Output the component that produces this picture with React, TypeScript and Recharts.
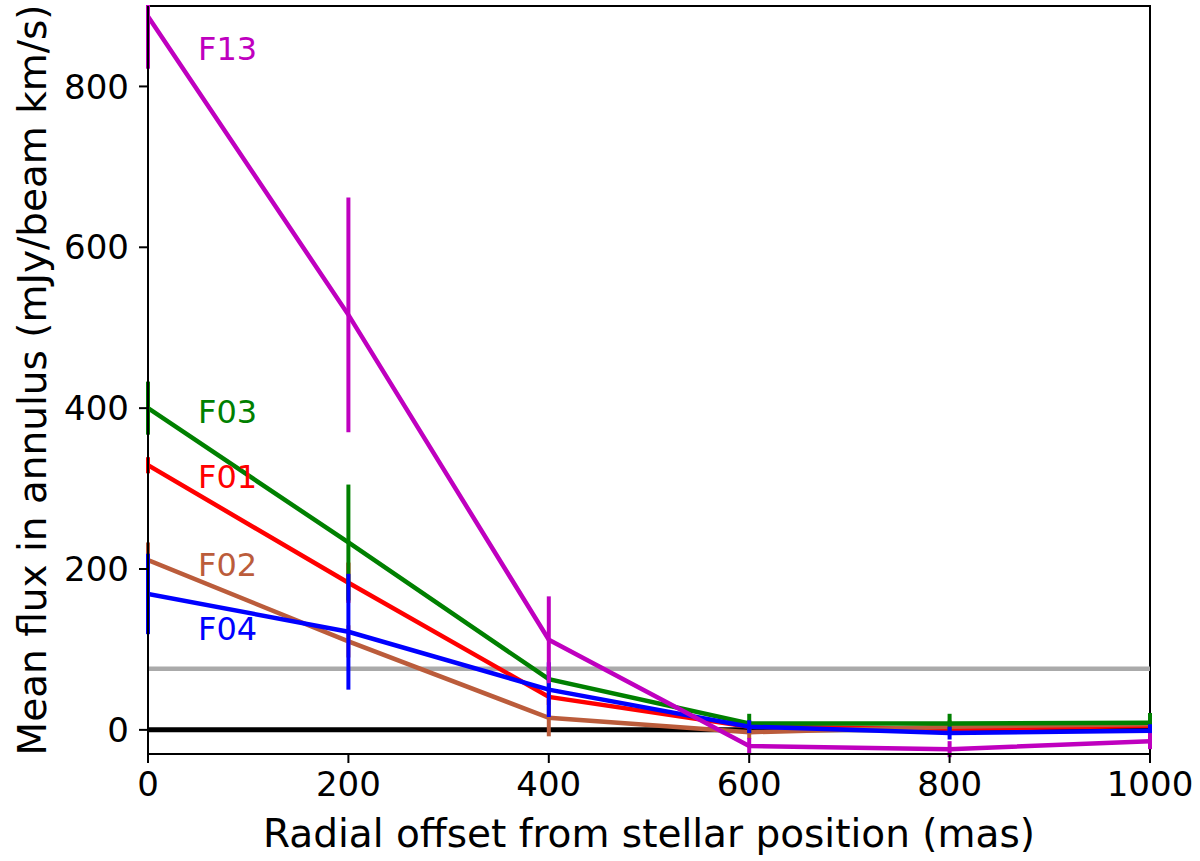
import {
  ErrorBar,
  Label,
  Line,
  LineChart,
  ReferenceArea,
  ReferenceDot,
  ReferenceLine,
  XAxis,
  YAxis,
} from "recharts";

// radial offsets (mas)
const offsets = [0, 200, 400, 600, 800, 1000];

// mean flux per field (mJy/beam km/s) and 1-sigma errors
const f01 = [329, 183, 41, 4, 1, 5];
const f01Err = [10, 25, 10, 6, 6, 6];
const f02 = [211, 110, 15, -3, 4, 7];
const f02Err = [22, 20, 23, 8, 8, 8];
const f03 = [400, 233, 63, 8, 8, 9];
const f03Err = [33, 72, 15, 12, 12, 12];
const f04 = [169, 122, 50, 4, -4, -1];
const f04Err = [50, 72, 34, 8, 8, 8];
const f13 = [887, 516, 112, -20, -24, -14];
const f13Err = [65, 146, 54, 10, 10, 10];

const noiseLevel = 76;

const xTicks = [0, 200, 400, 600, 800, 1000];
const yTicks = [0, 200, 400, 600, 800];

// series names, colours, and where their text labels sit (data coords)
const SERIES = [
  { key: "f01", name: "F01", color: "#ff0000", labelX: 50, labelY: 315 },
  { key: "f02", name: "F02", color: "#bb5c3b", labelX: 50, labelY: 206 },
  { key: "f03", name: "F03", color: "#008000", labelX: 50, labelY: 396 },
  { key: "f04", name: "F04", color: "#0000ff", labelX: 50, labelY: 126 },
  { key: "f13", name: "F13", color: "#bf00bf", labelX: 50, labelY: 847 },
];

const data = offsets.map((x, i) => ({
  x,
  f01: f01[i],
  f01Err: f01Err[i],
  f02: f02[i],
  f02Err: f02Err[i],
  f03: f03[i],
  f03Err: f03Err[i],
  f04: f04[i],
  f04Err: f04Err[i],
  f13: f13[i],
  f13Err: f13Err[i],
}));

const FONT = "'DejaVu Sans', sans-serif";

export default function App() {
  return (
    <div
      style={{
        position: "fixed",
        left: 0,
        top: 0,
        width: 1200,
        height: 861,
        background: "#fff",
        fontFamily: FONT,
      }}
    >
      <LineChart
        width={1200}
        height={861}
        data={data}
        margin={{ top: 6, right: 50, bottom: 0, left: 0 }}
      >
        <XAxis
          dataKey="x"
          type="number"
          domain={[0, 1000]}
          ticks={xTicks}
          allowDataOverflow
          height={107}
          tickSize={9}
          tickMargin={9}
          stroke="#000"
          axisLine={{ stroke: "#000", strokeWidth: 2 }}
          tickLine={{ stroke: "#000", strokeWidth: 2 }}
          tick={{ fill: "#000", fontSize: 34, fontFamily: FONT }}
        >
          <Label
            content={({ viewBox }: any) => (
              <text
                x={viewBox.x + viewBox.width / 2}
                y={847}
                textAnchor="middle"
                fontSize={39}
                fontFamily={FONT}
                fill="#000"
              >
                Radial offset from stellar position (mas)
              </text>
            )}
          />
        </XAxis>
        <YAxis
          type="number"
          domain={[-30, 900]}
          ticks={yTicks}
          allowDataOverflow
          width={148}
          tickSize={9}
          tickMargin={10}
          stroke="#000"
          axisLine={{ stroke: "#000", strokeWidth: 2 }}
          tickLine={{ stroke: "#000", strokeWidth: 2 }}
          tick={{ fill: "#000", fontSize: 34, fontFamily: FONT }}
        >
          <Label
            content={({ viewBox }: any) => {
              const cy = viewBox.y + viewBox.height / 2;
              return (
                <text
                  x={32}
                  y={cy}
                  transform={`rotate(-90, 32, ${cy})`}
                  textAnchor="middle"
                  dy="0.36em"
                  fontSize={39}
                  fontFamily={FONT}
                  fill="#000"
                >
                  Mean flux in annulus (mJy/beam km/s)
                </text>
              );
            }}
          />
        </YAxis>

        <ReferenceLine y={noiseLevel} stroke="#aaaaaa" strokeWidth={4.5} />
        <ReferenceLine y={0} stroke="#000" strokeWidth={5} />

        {SERIES.map((s) => (
          <Line
            key={s.key}
            dataKey={s.key}
            type="linear"
            stroke={s.color}
            strokeWidth={4.5}
            dot={false}
            activeDot={false}
            isAnimationActive={false}
          >
            <ErrorBar
              dataKey={`${s.key}Err`}
              width={0}
              stroke={s.color}
              strokeWidth={4}
              direction="y"
              isAnimationActive={false}
            />
          </Line>
        ))}

        {SERIES.map((s) => (
          <ReferenceDot
            key={`lbl-${s.key}`}
            x={s.labelX}
            y={s.labelY}
            r={0}
            fill="none"
            stroke="none"
            label={{
              content: ({ viewBox }: any) => (
                <text
                  x={viewBox.x}
                  y={viewBox.y + viewBox.height / 2}
                  dy="0.36em"
                  fontSize={32}
                  fontFamily={FONT}
                  fill={s.color}
                >
                  {s.name}
                </text>
              ),
            }}
          />
        ))}

        <ReferenceArea
          x1={0}
          x2={1000}
          y1={-30}
          y2={900}
          fill="none"
          fillOpacity={0}
          stroke="#000"
          strokeWidth={2}
        />
      </LineChart>
      {/* hide error bar overflow above the plot frame */}
      <div
        style={{
          position: "absolute",
          left: 0,
          top: 0,
          width: 1200,
          height: 5,
          background: "#fff",
        }}
      />
    </div>
  );
}
